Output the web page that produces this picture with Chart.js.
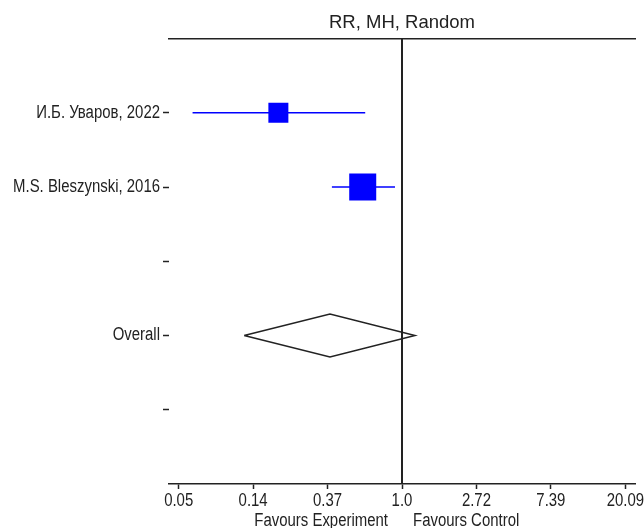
<!DOCTYPE html>
<html>
<head>
<meta charset="utf-8">
<script src="https://cdn.jsdelivr.net/npm/chart.js@4.4.1/dist/chart.umd.min.js"></script>
<style>
  html, body { margin: 0; padding: 0; background: #ffffff; }
  #wrap { width: 644px; height: 528px; position: relative; }
</style>
</head>
<body>
<div id="wrap"><canvas id="forest"></canvas></div>
<script>
// Study rows (top to bottom); blank rows keep the spacing of the plot
const rowLabels = ['И.Б. Уваров, 2022', 'M.S. Bleszynski, 2016', '', 'Overall', ''];
const studyNames = ['И.Б. Уваров, 2022', 'M.S. Bleszynski, 2016'];
const studyRR = [0.19, 0.59];
const studyLower = [0.06, 0.39];
const studyUpper = [0.61, 0.91];
const studyWeight = [35.4, 64.6];
const studyRow = [1, 2];

// Pooled estimate (random effects)
const overallRR = 0.38;
const overallLower = 0.12;
const overallUpper = 1.19;
const overallRow = 4;

// Axis ticks: e^-3 .. e^3
const xTickValues = [Math.exp(-3), Math.exp(-2), Math.exp(-1), 1, Math.exp(1), Math.exp(2), Math.exp(3)];
const xTickLabels = ['0.05', '0.14', '0.37', '1.0', '2.72', '7.39', '20.09'];

const NARROW = "'Liberation Sans Narrow', 'Liberation Sans', Arial, sans-serif";
const REGULAR = "'Liberation Sans', Arial, sans-serif";
const NARROW_FACTOR = 0.83;  // horizontal squeeze for the narrow face
const INK = '#222222';
const BLUE = '#0000ff';
const X_MIN = Math.exp(-3.13);
const X_MAX = Math.exp(3.13);
const DIAMOND_HALF = 0.29;   // half height of the pooled diamond, in row units
const BOX_SCALE = 3.36;      // square side per sqrt(weight)

// Condensed text: any font string naming the narrow family is squeezed horizontally
// around its anchor point, so left/centre/right alignment is preserved.
(function () {
  const proto = CanvasRenderingContext2D.prototype;
  const fill = proto.fillText;
  proto.fillText = function (text, x, y, maxWidth) {
    if (this.font.indexOf('Narrow') === -1) {
      return maxWidth === undefined ? fill.call(this, text, x, y) : fill.call(this, text, x, y, maxWidth);
    }
    this.save();
    this.translate(x, y);
    this.scale(NARROW_FACTOR, 1);
    fill.call(this, text, 0, 0);
    this.restore();
  };
})();

const datasets = [];

// Confidence interval whiskers
studyNames.forEach((name, i) => {
  datasets.push({
    type: 'line',
    label: name + ' CI',
    data: [{ x: studyLower[i], y: studyRow[i] }, { x: studyUpper[i], y: studyRow[i] }],
    borderColor: BLUE,
    borderWidth: 1.5,
    pointRadius: 0,
    fill: false
  });
});

// Point estimates as weighted squares
datasets.push({
  type: 'scatter',
  label: 'Study RR',
  data: studyRR.map((v, i) => ({ x: v, y: studyRow[i] })),
  pointStyle: 'rect',
  pointRadius: studyWeight.map(w => BOX_SCALE * Math.sqrt(w) / Math.SQRT2),
  pointBackgroundColor: BLUE,
  pointBorderColor: BLUE,
  pointBorderWidth: 0
});

// Pooled diamond
datasets.push({
  type: 'line',
  label: 'Overall',
  data: [
    { x: overallLower, y: overallRow },
    { x: overallRR, y: overallRow - DIAMOND_HALF },
    { x: overallUpper, y: overallRow },
    { x: overallRR, y: overallRow + DIAMOND_HALF },
    { x: overallLower, y: overallRow }
  ],
  borderColor: INK,
  borderWidth: 1.5,
  pointRadius: 0,
  fill: false,
  tension: 0
});

// Line of no effect
datasets.push({
  type: 'line',
  label: 'No effect',
  data: [{ x: 1, y: 0 }, { x: 1, y: rowLabels.length + 1 }],
  borderColor: INK,
  borderWidth: 2,
  pointRadius: 0,
  fill: false
});

// Captions under the axis on either side of the null line
const favoursPlugin = {
  id: 'favours',
  afterDraw(chart) {
    const ctx = chart.ctx;
    const x1 = chart.scales.x.getPixelForValue(1);
    ctx.save();
    ctx.font = '18px ' + NARROW;
    ctx.fillStyle = INK;
    ctx.textBaseline = 'alphabetic';
    ctx.textAlign = 'right';
    ctx.fillText('Favours Experiment', x1 - 14, 526);
    ctx.textAlign = 'left';
    ctx.fillText('Favours Control', x1 + 11, 526);
    ctx.restore();
  }
};

const noSidePadding = s => { s.paddingLeft = 0; s.paddingRight = 0; };

new Chart(document.getElementById('forest'), {
  data: { datasets },
  options: {
    responsive: true,
    maintainAspectRatio: false,
    devicePixelRatio: 1,
    animation: false,
    layout: { autoPadding: false, padding: { left: 0, right: 9, top: 0, bottom: 0 } },
    plugins: { legend: { display: false }, tooltip: { enabled: false } },
    scales: {
      x: {
        type: 'logarithmic',
        position: 'bottom',
        min: X_MIN,
        max: X_MAX,
        afterBuildTicks: s => { s.ticks = xTickValues.map(v => ({ value: v })); },
        afterFit: s => { s.height = 44; noSidePadding(s); },
        ticks: {
          autoSkip: false,
          maxRotation: 0,
          padding: 1,
          color: INK,
          font: { family: NARROW, size: 18 },
          callback: (v, i) => xTickLabels[i]
        },
        grid: { drawOnChartArea: false, drawTicks: true, tickLength: 5, color: INK, tickWidth: 1.5 },
        border: { display: true, color: INK, width: 1.5 }
      },
      xTop: {
        type: 'logarithmic',
        position: 'top',
        min: X_MIN,
        max: X_MAX,
        afterFit: s => { s.height = 38.5; noSidePadding(s); },
        ticks: { display: false },
        grid: { display: false, drawOnChartArea: false, drawTicks: false },
        border: { display: true, color: INK, width: 1.5 },
        title: {
          display: true,
          text: 'RR, MH, Random',
          color: INK,
          font: { family: REGULAR, size: 18.5 },
          padding: { top: 12, bottom: 0 }
        }
      },
      y: {
        type: 'linear',
        min: 0,
        max: rowLabels.length + 1,
        reverse: true,
        afterBuildTicks: s => { s.ticks = rowLabels.map((_, i) => ({ value: i + 1 })); },
        afterFit: s => { s.width = 169; },
        ticks: {
          autoSkip: false,
          padding: 3,
          color: INK,
          font: { family: NARROW, size: 18 },
          callback: v => rowLabels[v - 1]
        },
        grid: { drawOnChartArea: false, drawTicks: true, tickLength: 6, color: INK, tickWidth: 1.5 },
        border: { display: false }
      }
    }
  },
  plugins: [favoursPlugin]
});
</script>
</body>
</html>
